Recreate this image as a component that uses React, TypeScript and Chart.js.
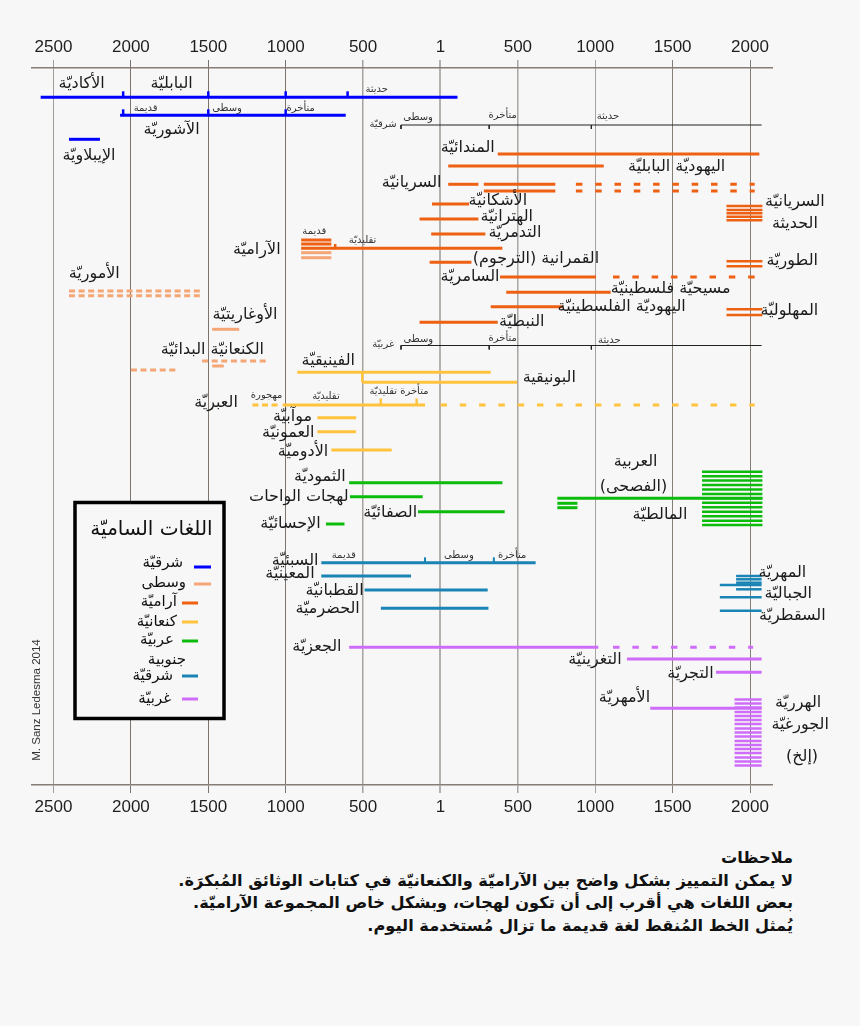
import React, { useEffect, useRef } from 'react';
import { Chart, registerables } from 'chart.js';

Chart.register(...registerables);

const AR_FONT = '"DejaVu Sans", "Liberation Sans", sans-serif';
const NUM_FONT = '"Liberation Sans", Arial, sans-serif';

// ---------- axis ----------
const X_MIN = -2639;
const X_MAX = 2142;
const LANE_MAX = 143.4;
const YEAR_TICKS = [-2500, -2000, -1500, -1000, -500, 0, 500, 1000, 1500, 2000];
const YEAR_LABELS = ['2500', '2000', '1500', '1000', '500', '1', '500', '1000', '1500', '2000'];
const GRID_COLORS = ['#a29c96', '#7b736c', '#7b736c', '#7b736c', '#a7a29d', '#b4b0ac', '#aaa6a2', '#a7a29d', '#857e77', '#857e77'];
const GRID_WIDTHS = [1, 1, 1, 1, 1.5, 2, 1.5, 1, 1, 1];

// ---------- colours ----------
const BLUE = '#0000ff';
const MIDDLE = '#f4a676';
const ARAMAIC = '#ee6112';
const CANAANITE = '#ffc33e';
const ARABIC = '#0cbc0c';
const SOUTH_EAST = '#1a85b5';
const SOUTH_WEST = '#cf6cfa';
const PERIOD = '#222222';

// ---------- data: [from year, to year, lane] ----------
const EAST_BARS = [[-2583, 110, 5.86], [-2070, -612, 9.46], [-2400, -2200, 14.26]];
const EAST_TICKS = [[-2050, 5.86, 4.66], [-1500, 5.86, 4.66], [-1000, 5.86, 4.66], [-600, 5.86, 4.66],
  [-2050, 9.46, 8.26], [-1500, 9.46, 8.26], [-1000, 9.46, 8.26]];

const PERIOD_LINES = [[-255, 2075, 11.4], [-255, 2075, 55.5]];
const PERIOD_TICKS = [[-255, 11.4, 12.2], [315, 11.4, 12.2], [975, 11.4, 12.2],
  [-255, 55.5, 56.3], [315, 55.5, 56.3], [975, 55.5, 56.3]];

const ARAMAIC_BARS = [
  [370, 2060, 17.2], [50, 1055, 19.6], [50, 245, 23.26], [280, 742, 23.26], [280, 742, 24.6],
  [-55, 185, 27.2], [-135, 245, 30.2], [-60, 290, 33.2],
  [-900, -705, 34.4], [-900, -705, 35.2], [-900, 400, 36.06],
  [-70, 200, 38.86], [385, 1005, 41.8], [425, 1100, 44.86], [325, 790, 47.74], [-135, 370, 50.86],
];
const ARAMAIC_DOTTED = [[875, 2030, 23.26], [875, 2030, 24.6], [1115, 2030, 41.8]];
const ARAMAIC_STEPS = [[-680, 35.2, 36.06]];
const MODERN_SYRIAC_LANES = [27.6, 28.4, 29.07, 29.73, 30.47];
const TUROYO_LANES = [38.66, 39.66];
const MAALOULA_LANES = [48.26, 49.4];
const MODERN_ARAMAIC_SPAN = [1848, 2080];

const MIDDLE_BARS = [[-1475, -1300, 52.26], [-1475, -1400, 59.6], [-900, -705, 36.94], [-900, -705, 37.94]];
const MIDDLE_DASHED = [[-2400, -1550, 44.6], [-2400, -1550, 45.54], [-2000, -1700, 60.4], [-1540, -1120, 58.6]];

const CANAANITE_BARS = [[-925, 325, 60.86], [-505, 495, 62.86], [-1020, -100, 67.4],
  [-795, -545, 69.94], [-795, -545, 72.74], [-705, -315, 76.4]];
const CANAANITE_STEPS = [[-505, 60.86, 62.86], [-386, 67.4, 66.1], [-154, 67.4, 66.1]];
const CANAANITE_DASHED = [[-1215, -1050, 67.4]];
const CANAANITE_DOTTED = [[0, 2030, 67.4]];

const ARABIC_BARS = [[-590, 400, 82.94], [-585, -115, 85.74], [-145, 415, 88.74], [-740, -620, 91.2],
  [755, 2080, 86.06], [755, 885, 87.06], [755, 885, 87.94]];
const ARABIC_MODERN_LANES = [80.74, 81.63, 82.52, 83.41, 84.3, 85.19, 86.06, 86.97, 87.86, 88.75, 89.64, 90.53, 91.4];
const ARABIC_MODERN_SPAN = [1690, 2080];

const SOUTH_EAST_BARS = [[-770, 615, 98.94], [-770, -190, 101.6], [-490, 305, 104.4], [-385, 310, 108.06]];
const SOUTH_EAST_STEPS = [[-100, 98.94, 97.86], [345, 98.94, 97.86]];
const MEHRI_LANES = [101.6, 102.26, 102.94, 104.26];
const MEHRI_SPAN = [1910, 2075];
const MODERN_SOUTH_LANES = [103.4, 105.86, 108.54];
const MODERN_SOUTH_SPAN = [1805, 2075];

const SOUTH_WEST_BARS = [[-590, 1020, 115.86], [1205, 2075, 118.2], [1780, 2075, 120.86], [1355, 2075, 128.06]];
const SOUTH_WEST_DOTTED = [[1115, 2020, 115.86]];
const GURAGE_LANES = [126.3, 127.1, 127.9, 128.8, 129.6, 130.4, 131.2, 132.1, 132.9, 133.7, 134.6, 135.4, 136.2, 137.0, 137.9, 138.7, 139.5];
const GURAGE_SPAN = [1900, 2075];

// ---------- labels: [text, year, lane] ----------
const LABELS = [
  ['الأكاديّة', -2318, 3.2], ['البابليّة', -1737, 3.2], ['الآشوريّة', -1737, 12.4], ['الإيبلاويّة', -2271, 17.6],
  ['المندائيّة', 176, 16.0], ['اليهوديّة البابليّة', 1526, 19.74], ['السريانيّة', -186, 23.06],
  ['الأشكانيّة', 371, 26.54], ['الهترانيّة', 428, 29.86], ['التدمريّة', 481, 33.06], ['الآراميّة', -1187, 36.4],
  ['القمرانية (الترجوم)', 617, 38.26], ['السامريّة', 191, 41.8], ['مسيحيّة فلسطينيّة', 1487, 44.26],
  ['اليهوديّة الفلسطينيّة', 1171, 47.86], ['النبطيّة', 525, 50.86],
  ['السريانيّة', 2290, 26.86], ['الحديثة', 2290, 31.26], ['الطوريّة', 2273, 38.6], ['المهلوليّة', 2254, 48.54],
  ['الأموريّة', -2237, 41.26], ['الأوغاريتيّة', -1263, 49.4], ['الكنعانيّة البدائيّة', -1474, 56.4],
  ['الفينيقيّة', -725, 58.54], ['البونيقية', 703, 62.06], ['العبريّة', -1450, 66.94],
  ['موآبيّة', -956, 69.74], ['العمونيّة', -983, 73.0], ['الأدوميّة', -888, 76.74],
  ['الثموديّة', -779, 81.74], ['لهجات الواحات', -915, 85.86], ['الصفائيّة', -325, 89.06], ['الإحسائيّة', -969, 91.2],
  ['العربية', 1261, 78.74], ['(الفصحى)', 1247, 83.74], ['المالطيّة', 1418, 89.4],
  ['السبئيّة', -939, 98.54], ['المعينيّة', -972, 101.26], ['القطبانيّة', -684, 104.54], ['الحضرميّة', -729, 108.26],
  ['المهريّة', 2209, 101.06], ['الجباليّة', 2247, 105.26], ['السقطريّة', 2273, 109.6],
  ['الجعزيّة', -798, 115.86], ['التغرينيّة', 998, 118.4], ['التجريّة', 1615, 121.2], ['الأمهريّة', 1189, 126.06],
  ['الهرريّة', 2311, 127.06], ['الجورغيّة', 2324, 131.4], ['(إلخ)', 2336, 137.74],
];
const PERIOD_LABELS = [
  ['حديثة', -412, 4.2], ['قديمة', -1905, 8.0], ['وسطى', -1379, 8.0], ['متأخرة', -903, 8.0],
  ['شرقيّة', -371, 11.2], ['وسطى', -145, 9.8], ['متأخرة', 402, 9.54], ['حديثة', 1082, 9.6],
  ['قديمة', -815, 32.6], ['تقليديّة', -503, 34.4],
  ['غربيّة', -370, 55.2], ['وسطى', -143, 54.2], ['متأخرة', 402, 54.06], ['حديثة', 1091, 54.4],
  ['مهجورة', -1123, 65.4], ['تقليديّة', -740, 65.6], ['متأخرة تقليديّة', -268, 64.74],
  ['قديمة', -625, 97.4], ['وسطى', 119, 97.4], ['متأخرة', 463, 97.4],
];

const LEGEND_TITLE = 'اللغات الساميّة';
const LEGEND_NAMES = ['شرقيّة', 'وسطى', 'آراميّة', 'كنعانيّة', 'عربيّة', 'جنوبية', 'شرقيّة', 'غربيّة'];
const LEGEND_COLORS = [BLUE, MIDDLE, ARAMAIC, CANAANITE, ARABIC, null, SOUTH_EAST, SOUTH_WEST];
const CREDIT = 'M. Sanz Ledesma 2014';
const NOTES = [
  'ملاحظات',
  'لا يمكن التمييز بشكل واضح بين الآراميّة والكنعانيّة في كتابات الوثائق المُبكرَة.',
  'بعض اللغات هي أقرب إلى أن تكون لهجات، وبشكل خاص المجموعة الآراميّة.',
  'يُمثل الخط المُنقط لغة قديمة ما تزال مُستخدمة اليوم.',
];

// ---------- styles ----------
const DASH_SPARSE = [6.5, 12.8];
const DASH_DENSE = [6, 3.6];
const BAR_W = 3;
const BLOCK_W = 2.5;

// legend layout (pixels): [textX, textY, lineX1, lineX2, lineY]
const LEGEND_LAYOUT = [
  [183, 563, 194, 211, 567], [186, 583, 194, 211, 584], [177, 602, 182, 198, 603], [177, 622, 182, 198, 622],
  [174, 640, 182, 198, 641], [167, 660, 0, 0, 0], [173, 676, 182, 198, 676], [171, 699, 182, 198, 699],
];

function buildDatasets() {
  const ds: any[] = [];
  const seg = (x1: number, y1: number, x2: number, y2: number, color: string, width: number, dash: number[] = []) => {
    ds.push({
      data: [{ x: x1, y: y1 }, { x: x2, y: y2 }],
      borderColor: color, borderWidth: width, borderDash: dash, borderCapStyle: 'butt',
      pointRadius: 0, fill: false, tension: 0, xAxisID: 'x', yAxisID: 'y',
    });
  };
  const bars = (list: number[][], color: string, width: number, dash?: number[]) =>
    list.forEach(([a, b, l]) => seg(a, l, b, l, color, width, dash));
  const steps = (list: number[][], color: string, width: number) =>
    list.forEach(([yr, l1, l2]) => seg(yr, l1, yr, l2, color, width));
  const block = (span: number[], lanes: number[], color: string) =>
    lanes.forEach((l) => seg(span[0], l, span[1], l, color, BLOCK_W));

  bars(EAST_BARS, BLUE, BAR_W); steps(EAST_TICKS, BLUE, 2.5);
  bars(PERIOD_LINES, PERIOD, 1); steps(PERIOD_TICKS, PERIOD, 1);
  bars(ARAMAIC_BARS, ARAMAIC, BAR_W); bars(ARAMAIC_DOTTED, ARAMAIC, BAR_W, DASH_SPARSE); steps(ARAMAIC_STEPS, ARAMAIC, 2.5);
  block(MODERN_ARAMAIC_SPAN, MODERN_SYRIAC_LANES, ARAMAIC); block(MODERN_ARAMAIC_SPAN, TUROYO_LANES, ARAMAIC); block(MODERN_ARAMAIC_SPAN, MAALOULA_LANES, ARAMAIC);
  bars(MIDDLE_BARS, MIDDLE, BAR_W); bars(MIDDLE_DASHED, MIDDLE, BAR_W, DASH_DENSE);
  bars(CANAANITE_BARS, CANAANITE, BAR_W); steps(CANAANITE_STEPS, CANAANITE, 2.5);
  bars(CANAANITE_DASHED, CANAANITE, BAR_W, DASH_DENSE); bars(CANAANITE_DOTTED, CANAANITE, BAR_W, DASH_SPARSE);
  bars(ARABIC_BARS, ARABIC, BAR_W); block(ARABIC_MODERN_SPAN, ARABIC_MODERN_LANES, ARABIC);
  bars(SOUTH_EAST_BARS, SOUTH_EAST, BAR_W); steps(SOUTH_EAST_STEPS, SOUTH_EAST, 2);
  block(MEHRI_SPAN, MEHRI_LANES, SOUTH_EAST); block(MODERN_SOUTH_SPAN, MODERN_SOUTH_LANES, SOUTH_EAST);
  bars(SOUTH_WEST_BARS, SOUTH_WEST, BAR_W); bars(SOUTH_WEST_DOTTED, SOUTH_WEST, BAR_W, DASH_SPARSE);
  block(GURAGE_SPAN, GURAGE_LANES, SOUTH_WEST);
  return ds;
}

const textPlugin = {
  id: 'semiticText',
  afterDatasetsDraw(chart: any) {
    const { ctx, scales } = chart;
    const x = scales.x, y = scales.y;
    ctx.save();
    ctx.direction = 'rtl';
    ctx.textAlign = 'center';
    ctx.textBaseline = 'middle';
    ctx.fillStyle = '#1b1b1b';
    ctx.font = `16px ${AR_FONT}`;
    LABELS.forEach(([t, yr, ln]: any) => ctx.fillText(t, x.getPixelForValue(yr), y.getPixelForValue(ln)));
    ctx.font = `10px ${AR_FONT}`;
    ctx.fillStyle = '#333';
    PERIOD_LABELS.forEach(([t, yr, ln]: any) => ctx.fillText(t, x.getPixelForValue(yr), y.getPixelForValue(ln)));

    // legend box
    ctx.fillStyle = '#f7f7f7';
    ctx.fillRect(75, 502.5, 149, 216);
    ctx.lineWidth = 3.5;
    ctx.strokeStyle = '#000';
    ctx.strokeRect(75, 502.5, 149, 216);
    ctx.fillStyle = '#111';
    ctx.font = `20px ${AR_FONT}`;
    ctx.textAlign = 'center';
    ctx.fillText(LEGEND_TITLE, 151.5, 530);
    ctx.font = `15px ${AR_FONT}`;
    LEGEND_NAMES.forEach((name, i) => {
      const [tx, ty, lx1, lx2, ly] = LEGEND_LAYOUT[i];
      const col = LEGEND_COLORS[i];
      ctx.textAlign = col ? 'right' : 'center';
      ctx.fillStyle = '#111';
      ctx.fillText(name, tx, ty);
      if (col) {
        ctx.strokeStyle = col;
        ctx.lineWidth = 3;
        ctx.beginPath();
        ctx.moveTo(lx1, ly);
        ctx.lineTo(lx2, ly);
        ctx.stroke();
      }
    });

    // credit
    ctx.direction = 'ltr';
    ctx.translate(37, 700);
    ctx.rotate(-Math.PI / 2);
    ctx.font = `11.5px ${NUM_FONT}`;
    ctx.fillStyle = '#333';
    ctx.textAlign = 'center';
    ctx.fillText(CREDIT, 0, 0);
    ctx.restore();
  },
};

function xAxis(position: 'top' | 'bottom', height: number) {
  return {
    type: 'linear', axis: 'x', position, min: X_MIN, max: X_MAX,
    afterBuildTicks: (s: any) => { s.ticks = YEAR_TICKS.map((v) => ({ value: v })); },
    afterFit: (s: any) => { s.height = height; },
    ticks: {
      callback: (_v: any, i: number) => YEAR_LABELS[i],
      font: { family: NUM_FONT, size: 17 }, color: '#1e1e1e',
      padding: position === 'top' ? 2 : 4, maxRotation: 0, autoSkip: false,
    },
    grid: {
      color: (c: any) => GRID_COLORS[c.index] || '#888',
      lineWidth: (c: any) => GRID_WIDTHS[c.index] || 1,
      tickLength: 8, drawOnChartArea: position === 'bottom', drawTicks: true,
    },
    border: { display: true, color: '#857d76', width: 1.5 },
  };
}

export default function App() {
  const ref = useRef<HTMLCanvasElement>(null);
  useEffect(() => {
    document.body.style.margin = '0';
    document.body.style.background = '#f7f7f7';
    const chart = new Chart(ref.current as HTMLCanvasElement, {
      type: 'line',
      data: { datasets: buildDatasets() },
      options: {
        animation: false, responsive: false, devicePixelRatio: 1, events: [],
        layout: { padding: { left: 32, right: 88, top: 0, bottom: 0 } },
        plugins: { legend: { display: false }, tooltip: { enabled: false } },
        scales: {
          x: xAxis('bottom', 45) as any,
          xTop: xAxis('top', 68) as any,
          y: { type: 'linear', display: false, min: 0, max: LANE_MAX, reverse: true },
        },
      },
      plugins: [textPlugin],
    } as any);
    return () => chart.destroy();
  }, []);

  return (
    <div style={{ position: 'relative', width: 860, height: 1026, background: '#f7f7f7', overflow: 'hidden' }}>
      <canvas ref={ref} width={860} height={830} style={{ position: 'absolute', left: 0, top: 0, width: 860, height: 830 }} />
      <div style={{
        position: 'absolute', right: 67, top: 847, direction: 'rtl', textAlign: 'right',
        font: `bold 16.2px ${AR_FONT}`, lineHeight: '22.7px', color: '#111', whiteSpace: 'nowrap',
      }}>
        {NOTES.map((n, i) => <div key={i}>{n}</div>)}
      </div>
    </div>
  );
}
